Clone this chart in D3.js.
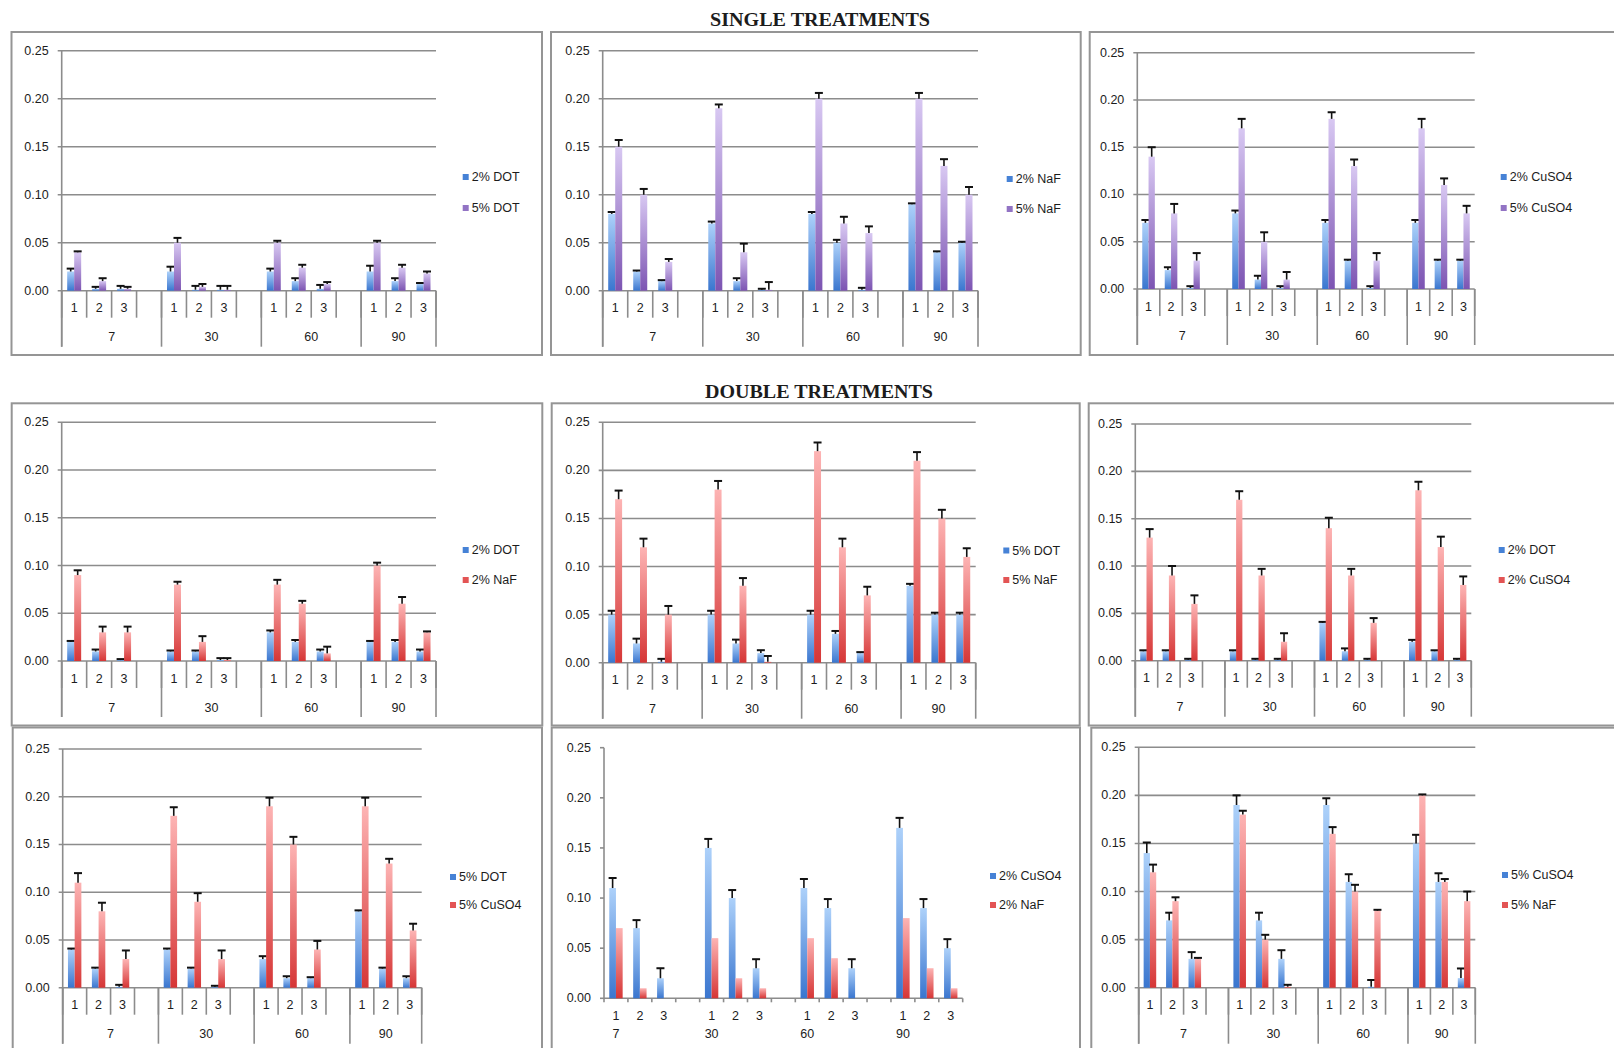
<!DOCTYPE html>
<html>
<head>
<meta charset="utf-8">
<script src="https://cdn.jsdelivr.net/npm/d3@7.9.0/dist/d3.min.js"></script>
<style>
  body { margin: 0; background: #fff; }
  svg { display: block; }
  text { font-family: "Liberation Sans", Arial, sans-serif; fill: #1c1c1c; }
</style>
</head>
<body>
<svg id="chart"></svg>
<script>
// categories
const days = ["7", "30", "60", "90"];
const reps = ["1", "2", "3"];
const yTicks = [0, 0.05, 0.10, 0.15, 0.20, 0.25];

// values, order: 7/1,2,3  30/1,2,3  60/1,2,3  90/1,2,3
// single treatments
const sDot2    = [0.02, 0.002, 0.002, 0.02, 0.001, 0.001, 0.02, 0.01, 0.002, 0.02, 0.01, 0.007];
const sDot2Err = [0.003, 0.002, 0.003, 0.005, 0.004, 0.004, 0.003, 0.003, 0.004, 0.006, 0.003, 0.001];
const sDot5    = [0.04, 0.01, 0.002, 0.05, 0.004, 0.001, 0.05, 0.024, 0.007, 0.05, 0.024, 0.018];
const sDot5Err = [0.001, 0.003, 0.002, 0.005, 0.003, 0.004, 0.002, 0.003, 0.002, 0.002, 0.003, 0.002];

const sNaf2    = [0.08, 0.02, 0.01, 0.07, 0.01, 0.001, 0.08, 0.05, 0.001, 0.09, 0.04, 0.05];
const sNaf2Err = [0.002, 0.001, 0.001, 0.002, 0.003, 0.001, 0.002, 0.003, 0.002, 0.001, 0.001, 0.001];
const sNaf5    = [0.15, 0.10, 0.03, 0.19, 0.04, 0.001, 0.20, 0.07, 0.06, 0.20, 0.13, 0.10];
const sNaf5Err = [0.007, 0.006, 0.003, 0.004, 0.009, 0.008, 0.006, 0.007, 0.007, 0.006, 0.007, 0.008];

const sCu2    = [0.07, 0.02, 0.001, 0.08, 0.01, 0.001, 0.07, 0.03, 0.001, 0.07, 0.03, 0.03];
const sCu2Err = [0.003, 0.003, 0.002, 0.003, 0.004, 0.002, 0.003, 0.001, 0.002, 0.003, 0.001, 0.001];
const sCu5    = [0.14, 0.08, 0.03, 0.17, 0.05, 0.01, 0.18, 0.13, 0.03, 0.17, 0.11, 0.08];
const sCu5Err = [0.01, 0.01, 0.008, 0.01, 0.01, 0.008, 0.007, 0.007, 0.008, 0.01, 0.007, 0.008];

// double treatments
const d1Dot    = [0.02, 0.01, 0.001, 0.01, 0.01, 0.001, 0.03, 0.02, 0.01, 0.02, 0.02, 0.01];
const d1DotErr = [0.001, 0.002, 0.001, 0.001, 0.001, 0.002, 0.002, 0.002, 0.002, 0.001, 0.002, 0.002];
const d1Naf    = [0.09, 0.03, 0.03, 0.08, 0.02, 0.001, 0.08, 0.06, 0.008, 0.10, 0.06, 0.03];
const d1NafErr = [0.005, 0.006, 0.006, 0.003, 0.006, 0.002, 0.005, 0.003, 0.007, 0.003, 0.007, 0.001];

const d2Dot    = [0.05, 0.02, 0.001, 0.05, 0.02, 0.01, 0.05, 0.03, 0.01, 0.08, 0.05, 0.05];
const d2DotErr = [0.004, 0.005, 0.003, 0.004, 0.004, 0.003, 0.004, 0.003, 0.001, 0.002, 0.002, 0.002];
const d2Naf    = [0.17, 0.12, 0.05, 0.18, 0.08, 0.001, 0.22, 0.12, 0.07, 0.21, 0.15, 0.11];
const d2NafErr = [0.009, 0.009, 0.009, 0.009, 0.008, 0.006, 0.009, 0.009, 0.009, 0.009, 0.009, 0.009];

const d3Dot    = [0.01, 0.01, 0.001, 0.01, 0.001, 0.001, 0.04, 0.01, 0.001, 0.02, 0.01, 0.001];
const d3DotErr = [0.001, 0.001, 0.001, 0.001, 0.001, 0.001, 0.001, 0.003, 0.001, 0.002, 0.001, 0.001];
const d3Cu     = [0.13, 0.09, 0.06, 0.17, 0.09, 0.02, 0.14, 0.09, 0.04, 0.18, 0.12, 0.08];
const d3CuErr  = [0.009, 0.01, 0.009, 0.009, 0.007, 0.009, 0.011, 0.007, 0.005, 0.009, 0.011, 0.009];

const d4Dot    = [0.04, 0.02, 0.001, 0.04, 0.02, 0.001, 0.03, 0.01, 0.01, 0.08, 0.02, 0.01];
const d4DotErr = [0.001, 0.001, 0.002, 0.001, 0.001, 0.001, 0.003, 0.002, 0.001, 0.001, 0.001, 0.002];
const d4Cu     = [0.11, 0.08, 0.03, 0.18, 0.09, 0.03, 0.19, 0.15, 0.04, 0.19, 0.13, 0.06];
const d4CuErr  = [0.01, 0.009, 0.009, 0.009, 0.009, 0.009, 0.009, 0.008, 0.009, 0.009, 0.005, 0.007];

const d5Cu     = [0.11, 0.07, 0.02, 0.15, 0.10, 0.03, 0.11, 0.09, 0.03, 0.17, 0.09, 0.05];
const d5CuErr  = [0.01, 0.008, 0.01, 0.009, 0.008, 0.009, 0.009, 0.009, 0.009, 0.01, 0.009, 0.009];
const d5Naf    = [0.07, 0.01, 0, 0.06, 0.02, 0.01, 0.06, 0.04, 0, 0.08, 0.03, 0.01];

const d6Cu     = [0.14, 0.07, 0.03, 0.19, 0.07, 0.03, 0.19, 0.11, 0.001, 0.15, 0.11, 0.01];
const d6CuErr  = [0.011, 0.008, 0.007, 0.01, 0.008, 0.009, 0.007, 0.008, 0.007, 0.009, 0.009, 0.01];
const d6Naf    = [0.12, 0.09, 0.03, 0.18, 0.05, 0.001, 0.16, 0.10, 0.08, 0.20, 0.11, 0.09];
const d6NafErr = [0.008, 0.004, 0.001, 0.004, 0.005, 0.002, 0.007, 0.007, 0.001, 0.001, 0.003, 0.01];

const W = 1614, H = 1048;
const svg = d3.select("#chart").attr("width", W).attr("height", H);
const fontSize = 12.5;

// bar gradients, light at top
const grads = {
  blue:   ["#add1fa", "#3a76cf"],
  purple: ["#d8c8f2", "#7c54b2"],
  red:    ["#fdb4b4", "#d63636"]
};
const keyColor = { blue: "#4682d6", purple: "#9273c4", red: "#e35454" };
const defs = svg.append("defs");
Object.entries(grads).forEach(([k, [c0, c1]]) => {
  const lg = defs.append("linearGradient").attr("id", "g-" + k)
    .attr("x1", 0).attr("y1", 0).attr("x2", 0).attr("y2", 1);
  lg.append("stop").attr("offset", "0%").attr("stop-color", c0);
  lg.append("stop").attr("offset", "100%").attr("stop-color", c1);
});

// 15 slots: three replicates per day plus an empty slot between days
const slotKeys = [];
days.forEach((d, gi) => {
  reps.forEach(r => slotKeys.push(d + "|" + r));
  if (gi < days.length - 1) slotKeys.push(d + "|pad");
});

const panels = [
  { box: [11.5, 32, 542, 355], left: 61.7, right: 436, yTop: 50.7, y0: 290.7, leg: [462.7, 177, 208],
    series: [{ name: "2% DOT", v: sDot2, e: sDot2Err, c: "blue" }, { name: "5% DOT", v: sDot5, e: sDot5Err, c: "purple" }] },
  { box: [551, 32, 1080.7, 355], left: 602.7, right: 978, yTop: 50.7, y0: 290.7, leg: [1006.7, 179, 209],
    series: [{ name: "2% NaF", v: sNaf2, e: sNaf2Err, c: "blue" }, { name: "5% NaF", v: sNaf5, e: sNaf5Err, c: "purple" }] },
  { box: [1089.7, 32, 1630, 355], left: 1137.3, right: 1474.7, yTop: 52.7, y0: 289, leg: [1500.7, 177, 208],
    series: [{ name: "2% CuSO4", v: sCu2, e: sCu2Err, c: "blue" }, { name: "5% CuSO4", v: sCu5, e: sCu5Err, c: "purple" }] },

  { box: [11.7, 403.3, 542.3, 725.5], left: 61.7, right: 436, yTop: 422.3, y0: 661, leg: [462.7, 550, 580],
    series: [{ name: "2% DOT", v: d1Dot, e: d1DotErr, c: "blue" }, { name: "2% NaF", v: d1Naf, e: d1NafErr, c: "red" }] },
  { box: [551.7, 403.3, 1079.7, 725.5], left: 602.7, right: 975.7, yTop: 422.3, y0: 662.7, leg: [1003.3, 550.5, 580],
    series: [{ name: "5% DOT", v: d2Dot, e: d2DotErr, c: "blue" }, { name: "5% NaF", v: d2Naf, e: d2NafErr, c: "red" }] },
  { box: [1088.7, 403.3, 1630, 725.5], left: 1135.3, right: 1471.3, yTop: 424, y0: 660.7, leg: [1498.7, 550, 580],
    series: [{ name: "2% DOT", v: d3Dot, e: d3DotErr, c: "blue" }, { name: "2% CuSO4", v: d3Cu, e: d3CuErr, c: "red" }] },

  { box: [12.7, 727.5, 542, 1070], left: 62.7, right: 421.7, yTop: 749, y0: 987.7, leg: [450, 877, 905],
    series: [{ name: "5% DOT", v: d4Dot, e: d4DotErr, c: "blue" }, { name: "5% CuSO4", v: d4Cu, e: d4CuErr, c: "red" }] },
  { box: [551.7, 727.5, 1080, 1070], left: 604, right: 962.7, yTop: 747.7, y0: 998.3, leg: [990, 876, 905], plain: true,
    series: [{ name: "2% CuSO4", v: d5Cu, e: d5CuErr, c: "blue" }, { name: "2% NaF", v: d5Naf, e: null, c: "red" }] },
  { box: [1091.3, 727.7, 1630, 1070], left: 1138.7, right: 1475.3, yTop: 747.3, y0: 987.7, leg: [1502, 875, 905],
    series: [{ name: "5% CuSO4", v: d6Cu, e: d6CuErr, c: "blue" }, { name: "5% NaF", v: d6Naf, e: d6NafErr, c: "red" }] }
];

const lineColor = "#8c8c8c";

function drawPanel(p) {
  const g = svg.append("g");
  const [bx0, by0, bx1, by1] = p.box;
  g.append("rect")
    .attr("x", bx0).attr("y", by0).attr("width", bx1 - bx0).attr("height", by1 - by0)
    .attr("fill", "#fff").attr("stroke", "#959595").attr("stroke-width", 2);

  const x = d3.scaleBand().domain(slotKeys).range([p.left, p.right]);
  const y = d3.scaleLinear().domain([0, 0.25]).range([p.y0, p.yTop]);
  const fmt = d3.format(".2f");

  if (!p.plain) {
    // gridlines with short outer ticks
    g.selectAll(".grid").data(yTicks).join("line")
      .attr("x1", p.left - 4).attr("x2", p.right)
      .attr("y1", d => y(d)).attr("y2", d => y(d))
      .attr("stroke", lineColor).attr("stroke-width", 1.6);
    g.append("line").attr("x1", p.left).attr("x2", p.left)
      .attr("y1", y(0.25)).attr("y2", p.y0 + 56)
      .attr("stroke", lineColor).attr("stroke-width", 1.6);
    // multi level category axis
    const bounds = slotKeys.map(k => x(k)).concat([p.right]);
    g.selectAll(".sep1").data(bounds).join("line")
      .attr("x1", d => d).attr("x2", d => d)
      .attr("y1", p.y0).attr("y2", p.y0 + 27)
      .attr("stroke", lineColor).attr("stroke-width", 1.6);
    const groupBounds = days.map(d => x(d + "|1")).concat([p.right]);
    g.selectAll(".sep2").data(groupBounds).join("line")
      .attr("x1", d => d).attr("x2", d => d)
      .attr("y1", p.y0).attr("y2", p.y0 + 56)
      .attr("stroke", lineColor).attr("stroke-width", 1.6);
    g.selectAll(".day").data(days).join("text")
      .attr("x", (d, i) => (groupBounds[i] + groupBounds[i + 1]) / 2)
      .attr("y", p.y0 + 46.5)
      .attr("text-anchor", "middle").attr("dominant-baseline", "central")
      .attr("font-size", fontSize).text(d => d);
  } else {
    g.append("line").attr("x1", p.left).attr("x2", p.left)
      .attr("y1", y(0.25)).attr("y2", p.y0)
      .attr("stroke", lineColor).attr("stroke-width", 1.6);
    g.selectAll(".ytick").data(yTicks).join("line")
      .attr("x1", p.left - 4).attr("x2", p.left)
      .attr("y1", d => y(d)).attr("y2", d => y(d))
      .attr("stroke", lineColor).attr("stroke-width", 1.6);
    g.append("line").attr("x1", p.left).attr("x2", p.right)
      .attr("y1", p.y0).attr("y2", p.y0)
      .attr("stroke", lineColor).attr("stroke-width", 1.6);
    const bounds = slotKeys.map(k => x(k)).concat([p.right]);
    g.selectAll(".xtick").data(bounds).join("line")
      .attr("x1", d => d).attr("x2", d => d)
      .attr("y1", p.y0).attr("y2", p.y0 + 4)
      .attr("stroke", lineColor).attr("stroke-width", 1.6);
    g.selectAll(".day").data(days).join("text")
      .attr("x", d => x(d + "|1") + x.bandwidth() / 2)
      .attr("y", p.y0 + 36)
      .attr("text-anchor", "middle").attr("dominant-baseline", "central")
      .attr("font-size", fontSize).text(d => d);
  }

  // y tick labels
  g.selectAll(".ylab").data(yTicks).join("text")
    .attr("x", p.left - 13).attr("y", d => y(d))
    .attr("text-anchor", "end").attr("dominant-baseline", "central")
    .attr("font-size", fontSize).text(d => fmt(d));

  // replicate labels
  const repSlots = slotKeys.filter(k => !k.endsWith("pad"));
  g.selectAll(".rep").data(repSlots).join("text")
    .attr("x", k => x(k) + x.bandwidth() / 2)
    .attr("y", p.y0 + (p.plain ? 18 : 17.5))
    .attr("text-anchor", "middle").attr("dominant-baseline", "central")
    .attr("font-size", fontSize).text(k => k.split("|")[1]);

  // bars
  const bw = x.bandwidth() * 0.28;
  p.series.forEach((s, si) => {
    const rows = s.v.map((v, i) => ({
      key: days[Math.floor(i / 3)] + "|" + reps[i % 3], v, e: s.e ? s.e[i] : null
    }));
    const bx = d => x(d.key) + x.bandwidth() / 2 + (si === 0 ? -bw : 0);
    g.selectAll(".bar" + si).data(rows).join("rect")
      .attr("x", bx).attr("width", bw)
      .attr("y", d => y(d.v)).attr("height", d => y(0) - y(d.v))
      .attr("fill", `url(#g-${s.c})`);
    if (s.e) {
      const eg = g.selectAll(".err" + si).data(rows).join("g");
      eg.append("line")
        .attr("x1", d => bx(d) + bw / 2).attr("x2", d => bx(d) + bw / 2)
        .attr("y1", d => y(d.v)).attr("y2", d => y(d.v + d.e))
        .attr("stroke", "#111").attr("stroke-width", 1.6);
      eg.append("line")
        .attr("x1", d => bx(d) + bw / 2 - 4).attr("x2", d => bx(d) + bw / 2 + 4)
        .attr("y1", d => y(d.v + d.e)).attr("y2", d => y(d.v + d.e))
        .attr("stroke", "#111").attr("stroke-width", 2);
    }
  });

  // legend
  p.series.forEach((s, si) => {
    const ly = p.leg[1 + si];
    g.append("rect").attr("x", p.leg[0]).attr("y", ly - 3).attr("width", 6).attr("height", 6)
      .attr("fill", keyColor[s.c]);
    g.append("text").attr("x", p.leg[0] + 9).attr("y", ly)
      .attr("dominant-baseline", "central").attr("font-size", fontSize).text(s.name);
  });
}

panels.forEach(drawPanel);

// section titles
const titles = [
  { text: "SINGLE TREATMENTS", x: 820, y: 26, len: 220 },
  { text: "DOUBLE TREATMENTS", x: 819, y: 398, len: 228 }
];
svg.selectAll(".title").data(titles).join("text")
  .attr("x", d => d.x).attr("y", d => d.y)
  .attr("text-anchor", "middle")
  .attr("textLength", d => d.len).attr("lengthAdjust", "spacingAndGlyphs")
  .style("font-family", "'Liberation Serif', 'Times New Roman', serif")
  .attr("font-weight", "bold").attr("font-size", 19)
  .text(d => d.text);
</script>
</body>
</html>
